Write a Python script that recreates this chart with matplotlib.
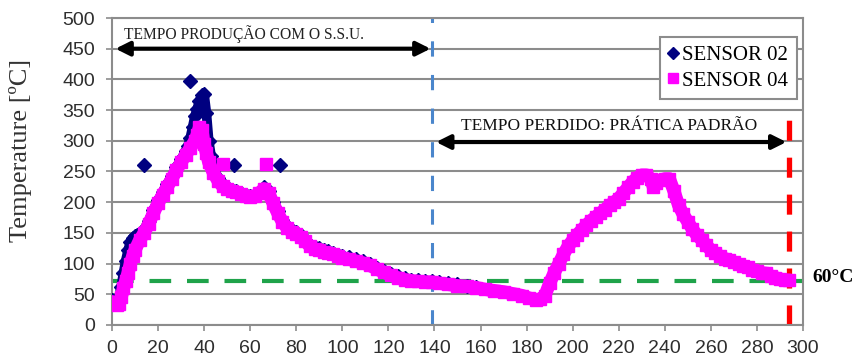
import numpy as np
import matplotlib.pyplot as plt

## data
# sensor 04 (magenta)
t04 = [0, 1, 2, 3, 4, 5, 6, 7, 8, 9, 10, 12, 14, 16, 18, 20, 22, 24, 26, 28,
       30, 32, 34, 36, 37, 38, 39, 40, 41, 42, 44, 46, 48, 50, 52, 54, 56, 58, 60, 62,
       64, 66, 68, 70, 72, 74, 76, 78, 80, 82, 84, 86, 88, 90, 92, 94, 96, 98, 100, 103,
       106, 109, 112, 115, 118, 121, 124, 127, 130, 133, 136, 139, 142, 146, 150, 154, 158, 162, 166, 170,
       174, 178, 181, 184, 186, 188, 190, 192, 194, 196, 198, 200, 202, 204, 206, 208, 210, 212, 214, 216,
       218, 220, 222, 224, 226, 228, 230, 232, 234, 235, 236, 238, 240, 242, 244, 246, 248, 250, 252, 254,
       256, 258, 260, 262, 264, 266, 268, 270, 272, 274, 276, 278, 280, 282, 284, 286, 288, 290, 292, 294]
temp04 = [38, 35, 33, 34, 45, 60, 72, 85, 100, 112, 122, 138, 150, 165, 182, 198, 212, 225, 238, 252,
          265, 277, 288, 300, 310, 322, 318, 295, 280, 265, 248, 235, 226, 222, 218, 216, 213, 210, 208, 210,
          215, 222, 215, 198, 182, 168, 158, 152, 148, 143, 136, 128, 124, 122, 119, 117, 115, 112, 109, 107,
          104, 101, 97, 91, 86, 81, 77, 74, 72, 71, 70, 70, 68, 66, 64, 63, 61, 58, 56, 54,
          51, 48, 44, 41, 42, 48, 68, 85, 100, 115, 128, 138, 147, 155, 163, 170, 176, 182, 188, 195,
          200, 206, 215, 224, 233, 240, 244, 244, 238, 225, 232, 236, 238, 238, 218, 195, 180, 168, 156, 146,
          139, 130, 122, 117, 112, 108, 106, 102, 99, 96, 94, 90, 88, 85, 84, 80, 77, 75, 73, 73]
t04_out = [48, 67]
temp04_out = [263, 263]

# sensor 02 (navy)
t02 = [0, 1, 2, 3, 4, 5, 6, 7, 8, 9, 10, 11, 12, 14, 16, 18, 20, 22, 24, 26,
       28, 30, 32, 33, 34, 35, 36, 37, 38, 39, 40, 41, 42, 43, 44, 46, 48, 50, 52, 54,
       56, 58, 60, 62, 64, 66, 68, 70, 72, 74, 76, 78, 80, 82, 84, 86, 88, 90, 92, 94,
       96, 98, 100, 103, 106, 109, 112, 115, 118, 121, 124, 127, 130, 133, 136, 139, 142, 146, 150, 154, 158]
temp02 = [40, 37, 36, 45, 62, 85, 105, 122, 135, 142, 145, 146, 148, 156, 170, 188, 203, 217, 230, 243,
          257, 270, 283, 292, 305, 322, 340, 352, 365, 374, 376, 345, 300, 276, 258, 240, 230, 225, 220, 218,
          215, 212, 210, 212, 217, 224, 218, 201, 185, 171, 161, 155, 151, 146, 139, 131, 127, 125, 122, 120,
          117, 114, 112, 110, 107, 104, 99, 93, 88, 83, 79, 76, 73, 73, 72, 72, 70, 68, 66, 64, 62]
t02_out = [14, 34, 53, 73]
temp02_out = [261, 398, 261, 261]

xticks = np.arange(0, 301, 20)
yticks = np.arange(0, 501, 50)

## figure
fig = plt.figure(figsize=(8.58, 3.63), dpi=100)
ax = fig.add_axes([0.1305, 0.1047, 0.8054, 0.8457])

ax.set_xlim(0, 300)
ax.set_ylim(0, 500)
ax.set_xticks(xticks)
ax.set_yticks(yticks)
ax.yaxis.grid(True, color='#8c8c8c', lw=1.5)
ax.set_axisbelow(True)
for s in ax.spines.values():
    s.set_color('#8c8c8c')
    s.set_linewidth(1.5)
ax.tick_params(colors='#8c8c8c', length=4, width=1.2)
ax.tick_params(axis='y', pad=8)
ax.tick_params(axis='x', pad=7)
for lab in ax.get_xticklabels() + ax.get_yticklabels():
    lab.set_fontfamily('Liberation Sans')
    lab.set_fontsize(14)
    lab.set_color('#2e2e2e')

# reference lines
ax.axhline(72, color='#1fa34a', lw=3, ls=(0, (5.2, 3.8)), zorder=2)
ax.axvline(139, color='#4a86cc', lw=2.2, ls=(0, (5, 6)), zorder=2)
ax.plot([294, 294], [0, 352], color='#ff0000', lw=3.8, ls=(0, (3.8, 3.2)), zorder=2)

# sensor series
ax.plot(t02, temp02, color='#000080', lw=7, solid_capstyle='round', zorder=3)
ax.plot(t02, temp02, ls='none', marker='D', ms=7, color='#000080', zorder=3)
ax.plot(t02_out, temp02_out, ls='none', marker='D', ms=7, color='#000080', zorder=3,
        label='SENSOR 02')
ax.plot(t04, temp04, color='#ff00ff', lw=9.5, solid_capstyle='round', zorder=4)
ax.plot(t04, temp04, ls='none', marker='s', ms=8.5, color='#ff00ff', zorder=4)
ax.plot(t04_out, temp04_out, ls='none', marker='s', ms=8, color='#ff00ff', zorder=4,
        label='SENSOR 04')

# arrows and notes
ax.annotate('', xy=(0.3, 450), xytext=(139.5, 450),
            arrowprops=dict(arrowstyle='<|-|>', color='black', lw=3, mutation_scale=21))
ax.annotate('', xy=(139.5, 298), xytext=(294, 298),
            arrowprops=dict(arrowstyle='<|-|>', color='black', lw=3, mutation_scale=21))
ax.text(57.5, 474, 'TEMPO PRODUÇÃO COM O S.S.U.', family='Liberation Serif',
        fontsize=11.2, ha='center', va='center', color='#222222')
ax.text(216, 324, 'TEMPO PERDIDO: PRÁTICA PADRÃO', family='Liberation Serif',
        fontsize=12.5, ha='center', va='center', color='#111111')
ax.text(1.013, 78, '60°C', transform=ax.get_yaxis_transform(), family='Liberation Serif',
        fontsize=14, fontweight='bold', ha='left', va='center')

ax.set_ylabel('Temperature [ºC]', family='Liberation Serif', fontsize=19, color='#333333')
ax.yaxis.set_label_coords(-0.116, 0.57)

leg = ax.legend(loc='upper right', bbox_to_anchor=(0.991, 0.938), borderaxespad=0,
                prop={'family': 'Liberation Serif', 'size': 15}, fancybox=False,
                handlelength=0.5, handletextpad=0.2, labelspacing=0.3, borderpad=0.4,
                framealpha=1, markerscale=0.85)
leg.get_frame().set_edgecolor('#8c8c8c')
leg.get_frame().set_linewidth(1.5)

fig.savefig('out.png', dpi=100)
